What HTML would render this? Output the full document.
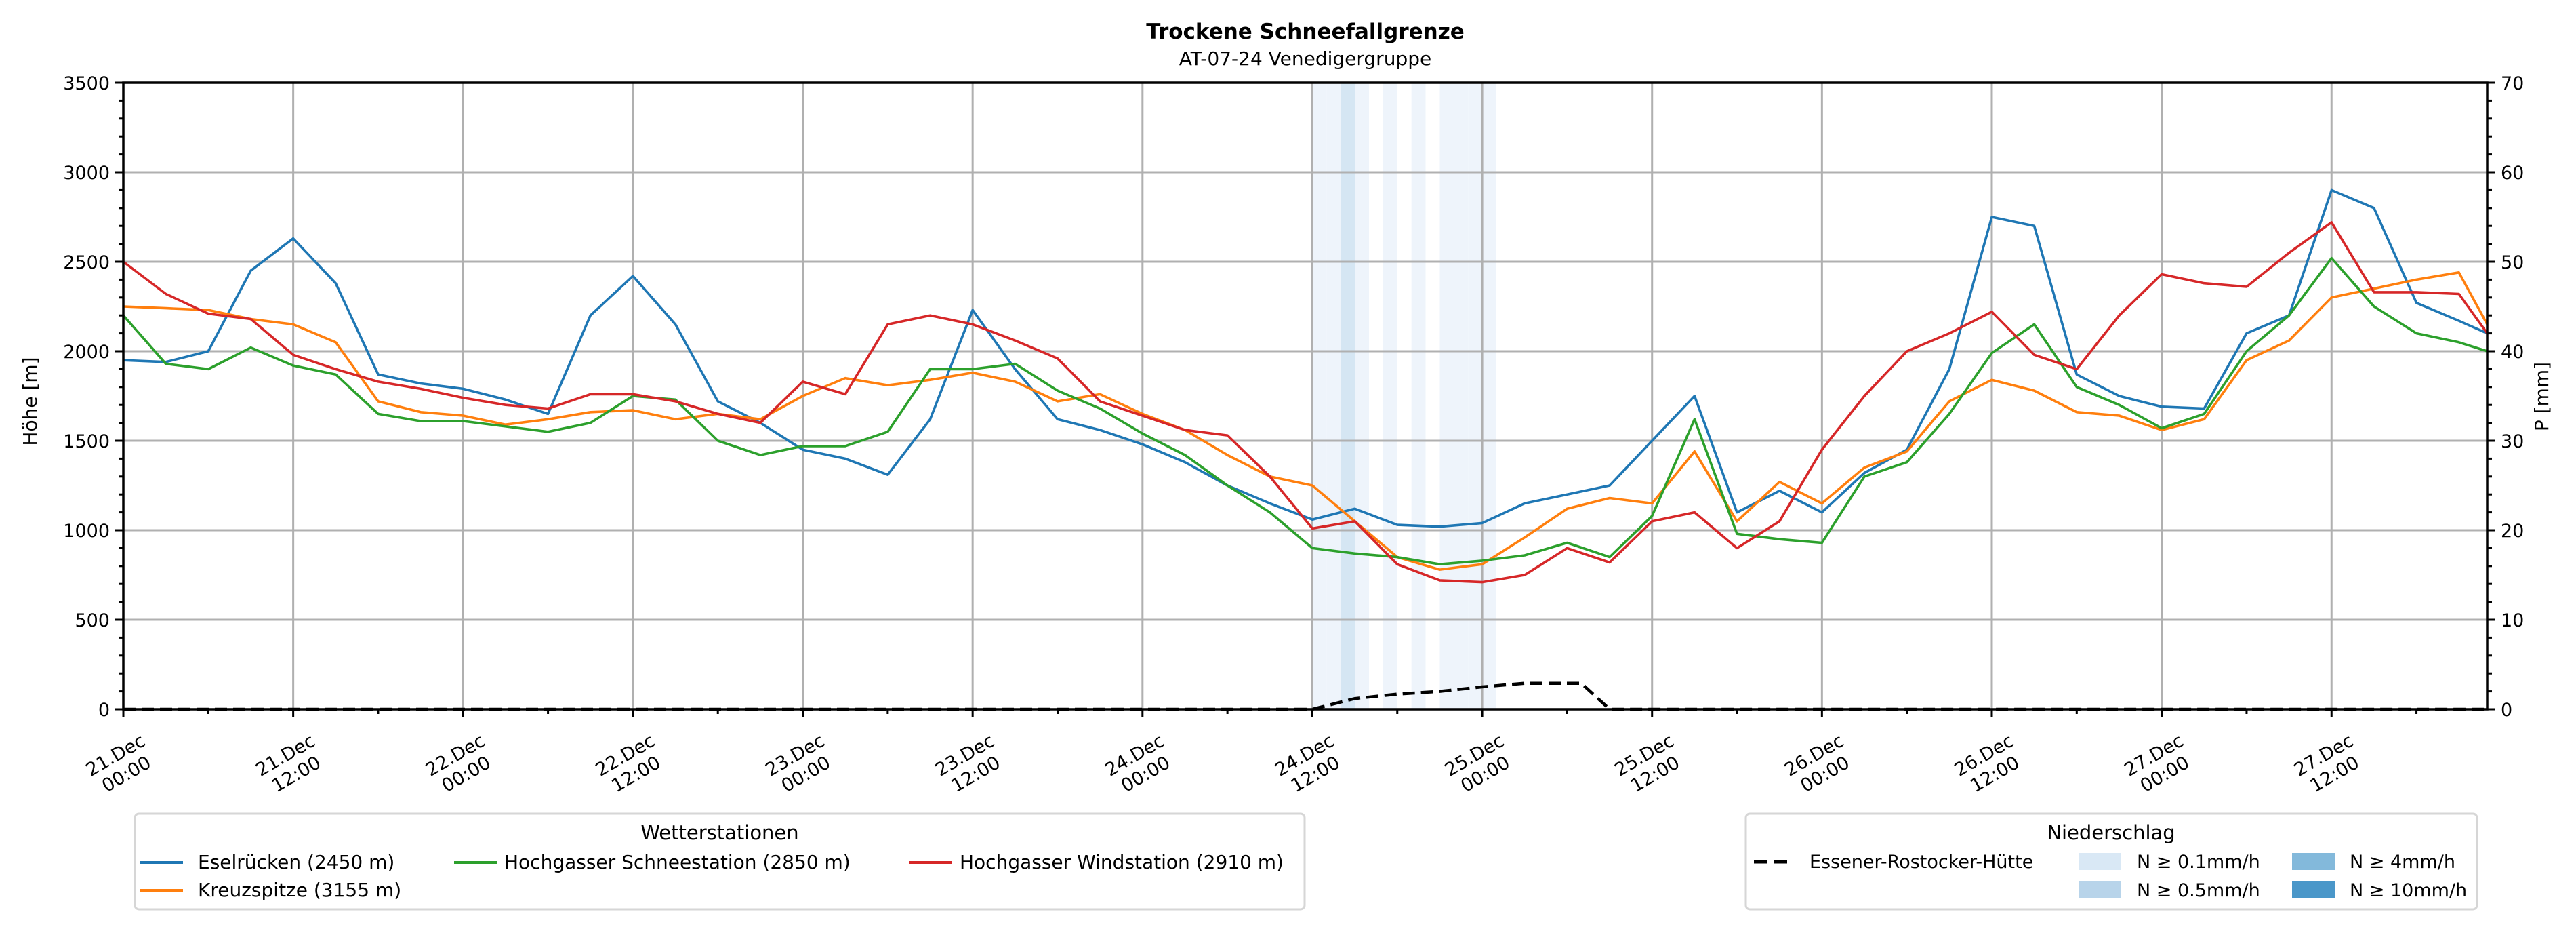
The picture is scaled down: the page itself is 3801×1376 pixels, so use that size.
<!DOCTYPE html>
<html><head><meta charset="utf-8"><style>
html,body{margin:0;padding:0;background:#fff;}
svg text{font-family:"DejaVu Sans","Liberation Sans",sans-serif;}
</style></head><body>
<svg id="chart" xmlns="http://www.w3.org/2000/svg" width="3801" height="1371" viewBox="0 0 3801 1371">
<rect x="0" y="0" width="3801" height="1371" fill="#fff"/>
<text x="1926" y="57" font-size="31" font-weight="bold" text-anchor="middle">Trockene Schneefallgrenze</text>
<text x="1926" y="96" font-size="28" text-anchor="middle">AT-07-24 Venedigergruppe</text>
<g id="bands"></g>
<g id="grid"></g>
<g id="series"></g>
<g id="axes"></g>
<text transform="translate(54,592) rotate(-90)" font-size="28" text-anchor="middle">Höhe [m]</text>
<text transform="translate(3760,585) rotate(-90)" font-size="28" text-anchor="middle">P [mm]</text>

<g>
<rect x="199" y="1200" width="1726" height="141" rx="6" fill="#fff" stroke="#d6d6d6" stroke-width="3"/>
<text x="1062" y="1238" font-size="29" text-anchor="middle">Wetterstationen</text>
<g><line x1="207" y1="1272" x2="270" y2="1272" stroke="#1f77b4" stroke-width="4"/><text x="292" y="1281" font-size="28">Eselrücken (2450 m)</text></g>
<g><line x1="207" y1="1313" x2="270" y2="1313" stroke="#ff7f0e" stroke-width="4"/><text x="292" y="1322" font-size="28">Kreuzspitze (3155 m)</text></g>
<g><line x1="670" y1="1272" x2="733" y2="1272" stroke="#2ca02c" stroke-width="4"/><text x="744" y="1281" font-size="28">Hochgasser Schneestation (2850 m)</text></g>
<g><line x1="1341" y1="1272" x2="1404" y2="1272" stroke="#d62728" stroke-width="4"/><text x="1416" y="1281" font-size="28">Hochgasser Windstation (2910 m)</text></g>
</g>

<g>
<rect x="2576" y="1200" width="1079" height="141" rx="6" fill="#fff" stroke="#d6d6d6" stroke-width="3"/>
<text x="3115" y="1238" font-size="29" text-anchor="middle">Niederschlag</text>
<g><line x1="2588" y1="1271" x2="2645" y2="1271" stroke="#000" stroke-width="5" stroke-dasharray="20,9"/><text x="2670" y="1280" font-size="27">Essener-Rostocker-Hütte</text></g>
<g><rect x="3067" y="1258" width="63" height="25" fill="#d9e8f5"/><text x="3153" y="1280" font-size="27">N ≥ 0.1mm/h</text></g>
<g><rect x="3067" y="1300" width="63" height="25" fill="#b8d4ea"/><text x="3153" y="1322" font-size="27">N ≥ 0.5mm/h</text></g>
<g><rect x="3382" y="1258" width="63" height="25" fill="#83b9db"/><text x="3467" y="1280" font-size="27">N ≥ 4mm/h</text></g>
<g><rect x="3382" y="1300" width="63" height="25" fill="#4a97c9"/><text x="3467" y="1322" font-size="27">N ≥ 10mm/h</text></g>
</g>
</svg>
<script>
const hours = [0,3,6,9,12,15,18,21,24,27,30,33,36,39,42,45,48,51,54,57,60,63,66,69,72,75,78,81,84,87,90,93,96,99,102,105,108,111,114,117,120,123,126,129,132,135,138,141,144,147,150,153,156,159,162,165,167];
const eselruecken = [1950,1940,2000,2450,2630,2380,1870,1820,1790,1730,1650,2200,2420,2150,1720,1600,1450,1400,1310,1620,2230,1900,1620,1560,1480,1380,1250,1150,1060,1120,1030,1020,1040,1150,1200,1250,1500,1750,1100,1220,1100,1320,1450,1900,2750,2700,1870,1750,1690,1680,2100,2200,2900,2800,2270,2170,2100];
const kreuzspitze = [2250,2240,2230,2180,2150,2050,1720,1660,1640,1590,1620,1660,1670,1620,1650,1620,1750,1850,1810,1840,1880,1830,1720,1760,1650,1560,1420,1300,1250,1050,850,780,810,960,1120,1180,1150,1440,1050,1270,1150,1350,1440,1720,1840,1780,1660,1640,1560,1620,1950,2060,2300,2350,2400,2440,2150];
const hochgasserSchnee = [2200,1930,1900,2020,1920,1870,1650,1610,1610,1580,1550,1600,1750,1730,1500,1420,1470,1470,1550,1900,1900,1930,1780,1680,1540,1420,1250,1100,900,870,850,810,830,860,930,850,1080,1620,980,950,930,1300,1380,1650,1990,2150,1800,1700,1570,1650,2000,2200,2520,2250,2100,2050,2000];
const hochgasserWind = [2500,2320,2210,2180,1980,1900,1830,1790,1740,1700,1680,1760,1760,1720,1650,1600,1830,1760,2150,2200,2150,2060,1960,1720,1640,1560,1530,1300,1010,1050,810,720,710,750,900,820,1050,1100,900,1050,1450,1750,2000,2100,2220,1980,1900,2200,2430,2380,2360,2550,2720,2330,2330,2320,2100];
const precipHours = [0,84,87,90,93,96,99,102,103,105,167];
const precipSum = [0,0,1.2,1.7,2.0,2.5,2.9,2.9,2.9,0,0];
const bandHours = [84,85,86,87,89,91,93,94,95,96];
const bandLevel = [1,1,2,1,1,1,1,1,1,1];
const yTicks = [0,500,1000,1500,2000,2500,3000,3500];
const y2Ticks = [0,10,20,30,40,50,60,70];
const xTickLabels = [["21.Dec","00:00"],["21.Dec","12:00"],["22.Dec","00:00"],["22.Dec","12:00"],["23.Dec","00:00"],["23.Dec","12:00"],["24.Dec","00:00"],["24.Dec","12:00"],["25.Dec","00:00"],["25.Dec","12:00"],["26.Dec","00:00"],["26.Dec","12:00"],["27.Dec","00:00"],["27.Dec","12:00"]];

const NS="http://www.w3.org/2000/svg";
const L=182, R=3670, T=122, B=1046, HMAX=167;
const xs = h => L + (R-L)*h/HMAX;
const ys = v => B - (B-T)*v/3500;
const y2s = v => B - (B-T)*v/70;
function mk(tag, attrs, parent){const e=document.createElementNS(NS,tag);for(const k in attrs)e.setAttribute(k,attrs[k]);parent.appendChild(e);return e;}
const gB=document.getElementById('bands'), gG=document.getElementById('grid'), gS=document.getElementById('series'), gA=document.getElementById('axes');

const bandColors={1:'#eef4fb',2:'#d5e6f3',3:'#83b9db',4:'#4a97c9'};
bandHours.forEach((h,i)=>{
  const r=mk('rect',{x:xs(h),y:T,width:xs(h+1)-xs(h),height:B-T,fill:bandColors[bandLevel[i]]},gB);
  
  
});
yTicks.forEach(v=>{ if(v>0&&v<3500){const l=mk('line',{x1:L,x2:R,y1:ys(v),y2:ys(v),stroke:'#b0b0b0','stroke-width':3},gG);
  
  }});
xTickLabels.forEach((lab,i)=>{ if(i>0){const l=mk('line',{x1:xs(i*12),x2:xs(i*12),y1:T,y2:B,stroke:'#b0b0b0','stroke-width':3},gG);
  
  }});
const seriesList=[[eselruecken,'#1f77b4','line-eselruecken'],[kreuzspitze,'#ff7f0e','line-kreuzspitze'],[hochgasserSchnee,'#2ca02c','line-hochgasser-schnee'],[hochgasserWind,'#d62728','line-hochgasser-wind']];
seriesList.forEach(s=>{
  const pts=s[0].map((v,i)=>xs(hours[i]).toFixed(1)+','+ys(v).toFixed(1)).join(' ');
  const p=mk('polyline',{points:pts,fill:'none',stroke:s[1],'stroke-width':3.6,'stroke-linejoin':'round'},gS);
  
  
});
const pp=precipHours.map((h,i)=>xs(h).toFixed(1)+','+y2s(precipSum[i]).toFixed(1)).join(' ');
const pl=mk('polyline',{points:pp,fill:'none',stroke:'#000','stroke-width':4.5,'stroke-dasharray':'18,9'},gS);


const fr=mk('rect',{x:L,y:T,width:R-L,height:B-T,fill:'none',stroke:'#000','stroke-width':3.5},gA);


for(let v=0;v<=3500;v+=100){const major=v%500===0;mk('line',{x1:L,x2:L-(major?12:7),y1:ys(v),y2:ys(v),stroke:'#000','stroke-width':3},gA);}
yTicks.forEach(v=>{const t=mk('text',{x:L-20,y:ys(v)+10,'font-size':27,'text-anchor':'end'},gA);t.textContent=v;
  
  });
for(let v=0;v<=70;v+=2){const major=v%10===0;mk('line',{x1:R,x2:R+(major?12:7),y1:y2s(v),y2:y2s(v),stroke:'#000','stroke-width':3},gA);}
y2Ticks.forEach(v=>{const t=mk('text',{x:R+20,y:y2s(v)+10,'font-size':27,'text-anchor':'start'},gA);t.textContent=v;
  
  });
for(let h=0;h<=HMAX;h+=6){const major=h%12===0;mk('line',{x1:xs(h),x2:xs(h),y1:B,y2:B+(major?12:7),stroke:'#000','stroke-width':3},gA);}
xTickLabels.forEach((lab,i)=>{
  const cx=xs(i*12)-4, cy=1127;
  const t=mk('text',{transform:`translate(${cx},${cy}) rotate(-30)`,'font-size':27,'text-anchor':'middle'},gA);
  
  
  const a=mk('tspan',{x:0,y:-6},t);a.textContent=lab[0];
  const b=mk('tspan',{x:0,y:26},t);b.textContent=lab[1];
});
</script>
</body></html>
